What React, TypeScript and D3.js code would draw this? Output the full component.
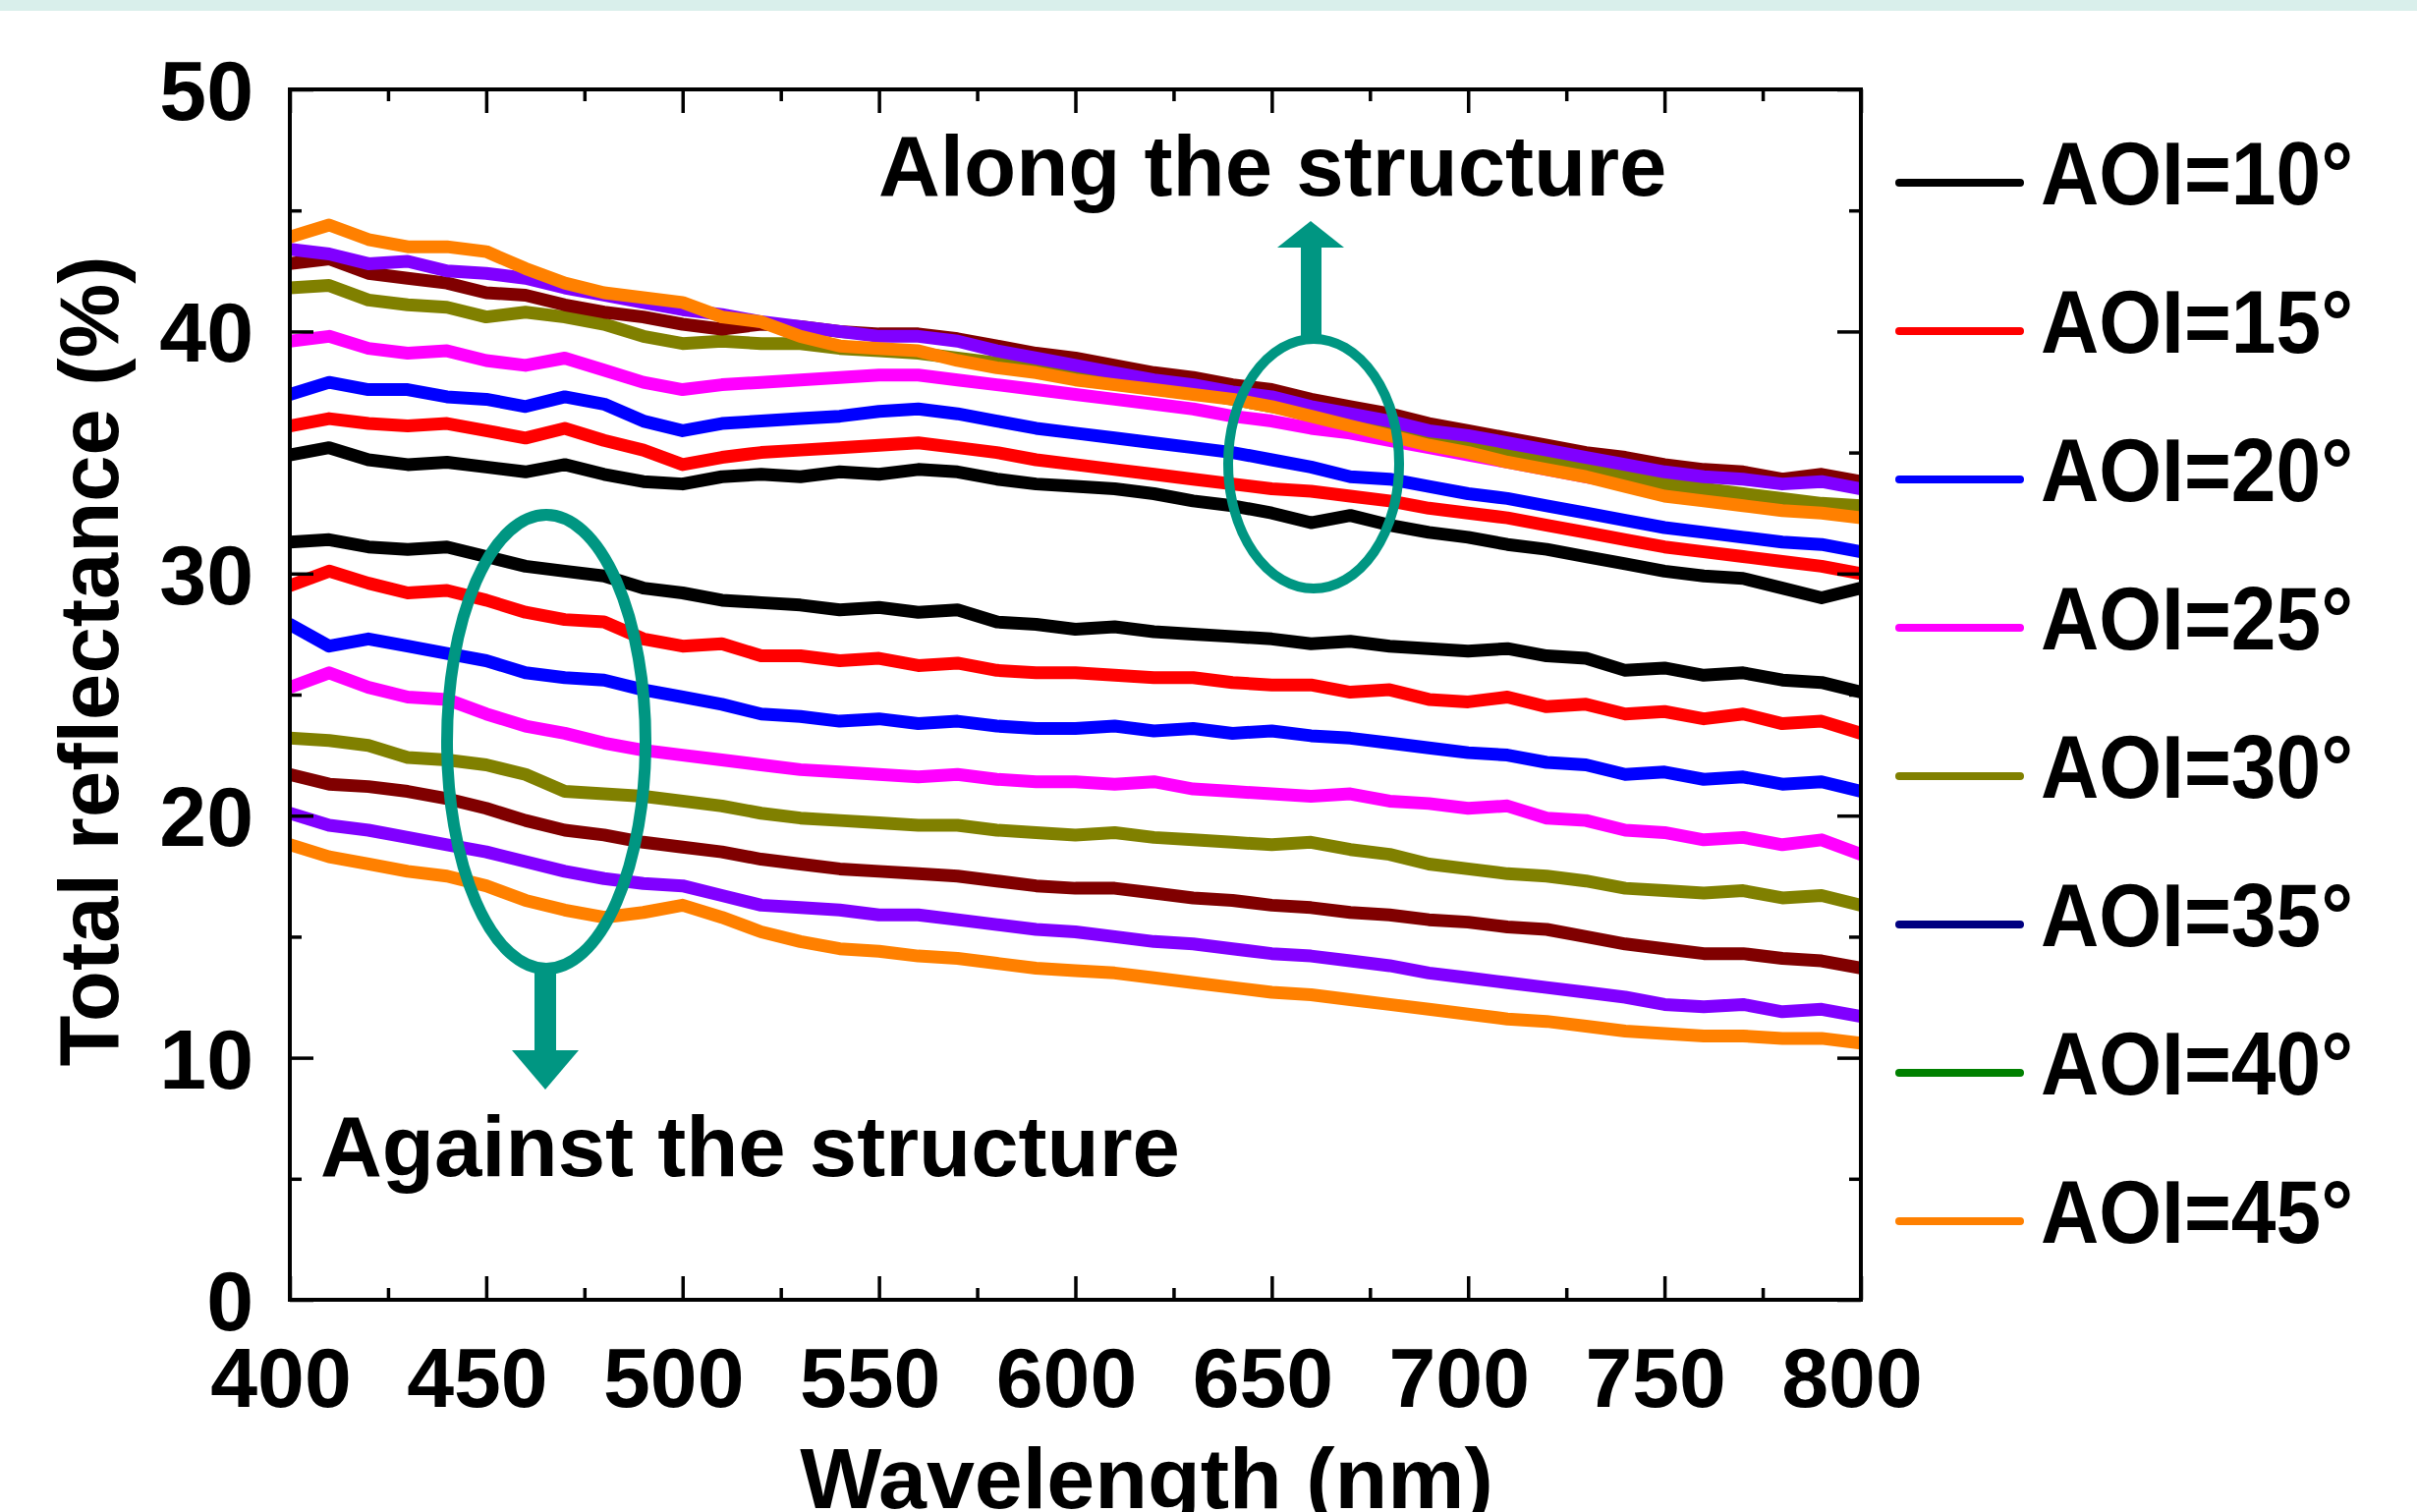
import React, { useEffect, useRef } from 'react';
import * as d3 from 'd3';

// wavelength grid, nm
const wavelengths = d3.range(400, 801, 10);

const angleLabels = ['AOI=10°', 'AOI=15°', 'AOI=20°', 'AOI=25°', 'AOI=30°', 'AOI=35°', 'AOI=40°', 'AOI=45°'];
const lineColors = ['#000000', '#ff0000', '#0000ff', '#ff00ff', '#808000', '#800000', '#8000ff', '#ff8000'];
const legendColors = ['#000000', '#ff0000', '#0000ff', '#ff00ff', '#808000', '#000080', '#008000', '#ff8000'];

// along the structure (upper group)
const along10 = [34.9, 35.2, 34.7, 34.5, 34.6, 34.4, 34.2, 34.5, 34.1, 33.8, 33.7, 34.0, 34.1, 34.0, 34.2, 34.1, 34.3, 34.2, 33.9, 33.7, 33.6, 33.5, 33.3, 33.0, 32.8, 32.5, 32.1, 32.4, 32.0, 31.7, 31.5, 31.2, 31.0, 30.7, 30.4, 30.1, 29.9, 29.8, 29.4, 29.0, 29.4];
const along15 = [36.1, 36.4, 36.2, 36.1, 36.2, 35.9, 35.6, 36.0, 35.5, 35.1, 34.5, 34.8, 35.0, 35.1, 35.2, 35.3, 35.4, 35.2, 35.0, 34.7, 34.5, 34.3, 34.1, 33.9, 33.7, 33.5, 33.4, 33.2, 33.0, 32.7, 32.5, 32.3, 32.0, 31.7, 31.4, 31.1, 30.9, 30.7, 30.5, 30.3, 30.0];
const along20 = [37.4, 37.9, 37.6, 37.6, 37.3, 37.2, 36.9, 37.3, 37.0, 36.3, 35.9, 36.2, 36.3, 36.4, 36.5, 36.7, 36.8, 36.6, 36.3, 36.0, 35.8, 35.6, 35.4, 35.2, 35.0, 34.7, 34.4, 34.0, 33.9, 33.6, 33.3, 33.1, 32.8, 32.5, 32.2, 31.9, 31.7, 31.5, 31.3, 31.2, 30.9];
const along25 = [39.6, 39.8, 39.3, 39.1, 39.2, 38.8, 38.6, 38.9, 38.4, 37.9, 37.6, 37.8, 37.9, 38.0, 38.1, 38.2, 38.2, 38.0, 37.8, 37.6, 37.4, 37.2, 37.0, 36.8, 36.5, 36.3, 36.0, 35.8, 35.5, 35.2, 34.9, 34.6, 34.3, 34.0, 33.7, 33.4, 33.2, 33.0, 32.8, 32.6, 32.4];
const along30 = [41.8, 41.9, 41.3, 41.1, 41.0, 40.6, 40.8, 40.6, 40.3, 39.8, 39.5, 39.6, 39.5, 39.5, 39.3, 39.2, 39.1, 38.9, 38.7, 38.5, 38.2, 37.9, 37.7, 37.5, 37.2, 36.9, 36.6, 36.3, 35.9, 35.6, 35.2, 34.9, 34.6, 34.3, 34.0, 33.7, 33.5, 33.3, 33.1, 32.9, 32.8];
const along35 = [42.8, 43.0, 42.4, 42.2, 42.0, 41.6, 41.5, 41.1, 40.8, 40.6, 40.3, 40.1, 40.3, 40.2, 40.0, 39.9, 39.9, 39.7, 39.4, 39.1, 38.9, 38.6, 38.3, 38.1, 37.8, 37.6, 37.2, 36.9, 36.6, 36.2, 35.9, 35.6, 35.3, 35.0, 34.8, 34.5, 34.3, 34.2, 33.9, 34.1, 33.8];
const along40 = [43.4, 43.2, 42.8, 42.9, 42.5, 42.4, 42.2, 41.8, 41.5, 41.2, 40.9, 40.7, 40.4, 40.2, 40.0, 39.8, 39.8, 39.6, 39.2, 38.9, 38.6, 38.3, 38.0, 37.8, 37.5, 37.3, 36.9, 36.6, 36.3, 35.9, 35.7, 35.4, 35.1, 34.8, 34.5, 34.2, 34.0, 33.9, 33.7, 33.8, 33.5];
const along45 = [43.9, 44.4, 43.8, 43.5, 43.5, 43.3, 42.6, 42.0, 41.6, 41.4, 41.2, 40.6, 40.4, 39.8, 39.4, 39.3, 39.2, 38.8, 38.5, 38.3, 38.0, 37.8, 37.6, 37.4, 37.2, 36.9, 36.5, 36.1, 35.7, 35.3, 35.0, 34.6, 34.3, 34.0, 33.6, 33.2, 33.0, 32.8, 32.6, 32.5, 32.3];

// against the structure (lower group)
const against10 = [31.3, 31.4, 31.1, 31.0, 31.1, 30.7, 30.3, 30.1, 29.9, 29.4, 29.2, 28.9, 28.8, 28.7, 28.5, 28.6, 28.4, 28.5, 28.0, 27.9, 27.7, 27.8, 27.6, 27.5, 27.4, 27.3, 27.1, 27.2, 27.0, 26.9, 26.8, 26.9, 26.6, 26.5, 26.0, 26.1, 25.8, 25.9, 25.6, 25.5, 25.1];
const against15 = [29.5, 30.1, 29.6, 29.2, 29.3, 28.9, 28.4, 28.1, 28.0, 27.3, 27.0, 27.1, 26.6, 26.6, 26.4, 26.5, 26.2, 26.3, 26.0, 25.9, 25.9, 25.8, 25.7, 25.7, 25.5, 25.4, 25.4, 25.1, 25.2, 24.8, 24.7, 24.9, 24.5, 24.6, 24.2, 24.3, 24.0, 24.2, 23.8, 23.9, 23.4];
const against20 = [27.9, 27.0, 27.3, 27.0, 26.7, 26.4, 25.9, 25.7, 25.6, 25.2, 24.9, 24.6, 24.2, 24.1, 23.9, 24.0, 23.8, 23.9, 23.7, 23.6, 23.6, 23.7, 23.5, 23.6, 23.4, 23.5, 23.3, 23.2, 23.0, 22.8, 22.6, 22.5, 22.2, 22.1, 21.7, 21.8, 21.5, 21.6, 21.3, 21.4, 21.0];
const against25 = [25.3, 25.9, 25.3, 24.9, 24.8, 24.2, 23.7, 23.4, 23.0, 22.7, 22.5, 22.3, 22.1, 21.9, 21.8, 21.7, 21.6, 21.7, 21.5, 21.4, 21.4, 21.3, 21.4, 21.1, 21.0, 20.9, 20.8, 20.9, 20.6, 20.5, 20.3, 20.4, 19.9, 19.8, 19.4, 19.3, 19.0, 19.1, 18.8, 19.0, 18.4];
const against30 = [23.2, 23.1, 22.9, 22.4, 22.3, 22.1, 21.7, 21.0, 20.9, 20.8, 20.6, 20.4, 20.1, 19.9, 19.8, 19.7, 19.6, 19.6, 19.4, 19.3, 19.2, 19.3, 19.1, 19.0, 18.9, 18.8, 18.9, 18.6, 18.4, 18.0, 17.8, 17.6, 17.5, 17.3, 17.0, 16.9, 16.8, 16.9, 16.6, 16.7, 16.3];
const against35 = [21.7, 21.3, 21.2, 21.0, 20.7, 20.3, 19.8, 19.4, 19.2, 18.9, 18.7, 18.5, 18.2, 18.0, 17.8, 17.7, 17.6, 17.5, 17.3, 17.1, 17.0, 17.0, 16.8, 16.6, 16.5, 16.3, 16.2, 16.0, 15.9, 15.7, 15.6, 15.4, 15.3, 15.0, 14.7, 14.5, 14.3, 14.3, 14.1, 14.0, 13.7];
const against40 = [20.1, 19.6, 19.4, 19.1, 18.8, 18.5, 18.1, 17.7, 17.4, 17.2, 17.1, 16.7, 16.3, 16.2, 16.1, 15.9, 15.9, 15.7, 15.5, 15.3, 15.2, 15.0, 14.8, 14.7, 14.5, 14.3, 14.2, 14.0, 13.8, 13.5, 13.3, 13.1, 12.9, 12.7, 12.5, 12.2, 12.1, 12.2, 11.9, 12.0, 11.7];
const against45 = [18.8, 18.3, 18.0, 17.7, 17.5, 17.1, 16.5, 16.1, 15.8, 16.0, 16.3, 15.8, 15.2, 14.8, 14.5, 14.4, 14.2, 14.1, 13.9, 13.7, 13.6, 13.5, 13.3, 13.1, 12.9, 12.7, 12.6, 12.4, 12.2, 12.0, 11.8, 11.6, 11.5, 11.3, 11.1, 11.0, 10.9, 10.9, 10.8, 10.8, 10.6];

const alongSeries = [along10, along15, along20, along25, along30, along35, along40, along45];
const againstSeries = [against10, against15, against20, against25, against30, against35, against40, against45];

const xMajor = [400, 450, 500, 550, 600, 650, 700, 750, 800];
const xMinor = [425, 475, 525, 575, 625, 675, 725, 775];
const yMajor = [0, 10, 20, 30, 40, 50];
const yMinor = [5, 15, 25, 35, 45];

const FONT = '"Liberation Sans", Arial, Helvetica, sans-serif';
const TEAL = '#009682';

function App() {
  const ref = useRef<SVGSVGElement>(null);

  useEffect(() => {
    const svg = d3.select(ref.current);
    svg.selectAll('*').remove();

    const left = 295, right = 1894, top = 91, bottom = 1323;

    const x = d3.scaleLinear().domain([400, 800]).range([left, right]);
    const y = d3.scaleLinear().domain([0, 50]).range([bottom, top]);

    // light band at the top of the page
    svg.append('rect').attr('x', 0).attr('y', 0).attr('width', 2460).attr('height', 11).attr('fill', '#d9efeb');

    svg.append('clipPath').attr('id', 'plotClip')
      .append('rect').attr('x', left).attr('y', top).attr('width', right - left).attr('height', bottom - top);

    const line = d3.line<number>()
      .x((_, i) => x(wavelengths[i]))
      .y(d => y(d));

    const curves = svg.append('g').attr('clip-path', 'url(#plotClip)');
    [alongSeries, againstSeries].forEach(group => {
      group.forEach((vals, i) => {
        curves.append('path')
          .attr('d', line(vals))
          .attr('fill', 'none')
          .attr('stroke', lineColors[i])
          .attr('stroke-width', 13)
          .attr('stroke-linejoin', 'round')
          .attr('stroke-linecap', 'round');
      });
    });

    // frame
    svg.append('rect')
      .attr('x', left).attr('y', top).attr('width', right - left).attr('height', bottom - top)
      .attr('fill', 'none').attr('stroke', '#000').attr('stroke-width', 4);

    // inward ticks on all four sides
    const tickSet = (g: any) => g.call((s: any) => s.select('.domain').remove())
      .selectAll('line').attr('stroke', '#000').attr('stroke-width', 3.5);

    svg.append('g').attr('transform', `translate(0,${bottom})`)
      .call(d3.axisBottom(x).tickValues(xMajor).tickSize(-24).tickFormat(() => '')).call(tickSet);
    svg.append('g').attr('transform', `translate(0,${bottom})`)
      .call(d3.axisBottom(x).tickValues(xMinor).tickSize(-12).tickFormat(() => '')).call(tickSet);
    svg.append('g').attr('transform', `translate(0,${top})`)
      .call(d3.axisTop(x).tickValues(xMajor).tickSize(-24).tickFormat(() => '')).call(tickSet);
    svg.append('g').attr('transform', `translate(0,${top})`)
      .call(d3.axisTop(x).tickValues(xMinor).tickSize(-12).tickFormat(() => '')).call(tickSet);
    svg.append('g').attr('transform', `translate(${left},0)`)
      .call(d3.axisLeft(y).tickValues(yMajor).tickSize(-24).tickFormat(() => '')).call(tickSet);
    svg.append('g').attr('transform', `translate(${left},0)`)
      .call(d3.axisLeft(y).tickValues(yMinor).tickSize(-12).tickFormat(() => '')).call(tickSet);
    svg.append('g').attr('transform', `translate(${right},0)`)
      .call(d3.axisRight(y).tickValues(yMajor).tickSize(-24).tickFormat(() => '')).call(tickSet);
    svg.append('g').attr('transform', `translate(${right},0)`)
      .call(d3.axisRight(y).tickValues(yMinor).tickSize(-12).tickFormat(() => '')).call(tickSet);

    const text = (sel: any) => sel.attr('font-family', FONT).attr('font-weight', 'bold').attr('fill', '#000');

    // tick labels
    svg.append('g').selectAll('text').data(xMajor).enter().append('text')
      .call(text)
      .attr('x', d => x(d) - 9).attr('y', 1432)
      .attr('font-size', 86).attr('text-anchor', 'middle')
      .text(d => d);

    svg.append('g').selectAll('text').data(yMajor).enter().append('text')
      .call(text)
      .attr('x', 258).attr('y', d => y(d) + 31)
      .attr('font-size', 86).attr('text-anchor', 'end')
      .text(d => d);

    // axis titles
    svg.append('text').call(text)
      .attr('x', 1167).attr('y', 1535)
      .attr('font-size', 88).attr('text-anchor', 'middle')
      .text('Wavelength (nm)');

    svg.append('text').call(text)
      .attr('transform', 'translate(120,673) rotate(-90)')
      .attr('font-size', 85).attr('text-anchor', 'middle')
      .text('Total reflectance (%)');

    // annotations
    svg.append('text').call(text)
      .attr('x', 894).attr('y', 199).attr('font-size', 87)
      .text('Along the structure');
    svg.append('text').call(text)
      .attr('x', 326).attr('y', 1197).attr('font-size', 87)
      .text('Against the structure');

    svg.append('ellipse')
      .attr('cx', 556).attr('cy', 755).attr('rx', 101).attr('ry', 231)
      .attr('fill', 'none').attr('stroke', TEAL).attr('stroke-width', 12);
    svg.append('ellipse')
      .attr('cx', 1337).attr('cy', 472).attr('rx', 87).attr('ry', 127)
      .attr('fill', 'none').attr('stroke', TEAL).attr('stroke-width', 10);

    // arrow down from lower ellipse
    svg.append('rect').attr('x', 544).attr('y', 984).attr('width', 22).attr('height', 88).attr('fill', TEAL);
    svg.append('path').attr('d', 'M521,1069 L589,1069 L555,1109 Z').attr('fill', TEAL);
    // arrow up from upper ellipse
    svg.append('rect').attr('x', 1324).attr('y', 250).attr('width', 21).attr('height', 96).attr('fill', TEAL);
    svg.append('path').attr('d', 'M1300,252 L1368,252 L1334,225 Z').attr('fill', TEAL);

    // legend
    const legend = svg.append('g');
    angleLabels.forEach((lab, i) => {
      const ly = 186 + i * 151;
      legend.append('line')
        .attr('x1', 1933).attr('x2', 2056).attr('y1', ly).attr('y2', ly)
        .attr('stroke', legendColors[i]).attr('stroke-width', 8).attr('stroke-linecap', 'round');
      legend.append('text').call(text)
        .attr('x', 2077).attr('y', ly + 22).attr('font-size', 90)
        .attr('textLength', 318).attr('lengthAdjust', 'spacingAndGlyphs')
        .text(lab);
    });
  }, []);

  return <svg ref={ref} width={2460} height={1539} style={{ position: 'absolute', left: 0, top: 0, background: '#fff' }} />;
}

export default App;
